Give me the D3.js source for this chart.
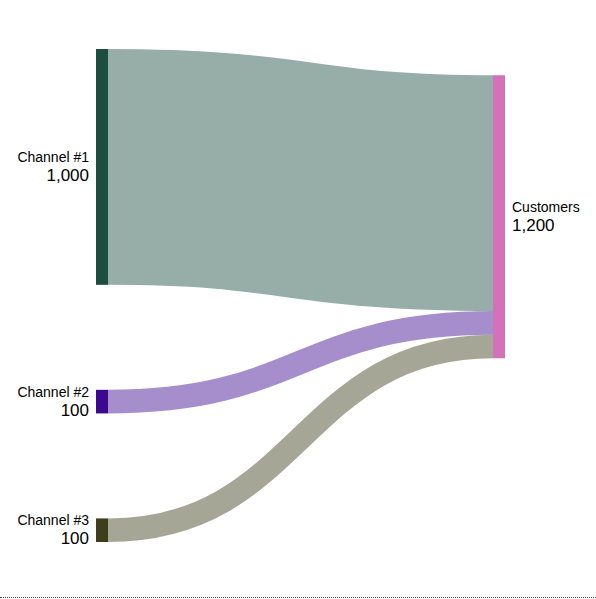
<!DOCTYPE html>
<html>
<head>
<meta charset="utf-8">
<script src="https://cdn.jsdelivr.net/npm/d3@7"></script>
<style>
  body { margin: 0; background: #fff; }
  #chart { width: 596px; height: 597px; border-bottom: 1px dotted #444; }
  svg { display: block; }
</style>
</head>
<body>
<div id="chart"></div>
<script>
const FRAME_WIDTH = 596;
const FRAME_HEIGHT = 597;
const MARGINS = { top: 49, bottom: 55 };
const NODE_WIDTH = 12;
const NODE_PADDING = 105;
const LABEL_GAP = 7;

// data
const sourceNames = ["Channel #1", "Channel #2", "Channel #3"];
const sourceValues = [1000, 100, 100];
const sourceColors = ["#1c4d3f", "#3d0890", "#3e3e1b"];
const targetName = "Customers";
const targetColor = "#d471b9";

const fmt = d3.format(",");
const total = d3.sum(sourceValues);

const FRAME = d3.select("#chart")
  .append("svg")
  .attr("width", FRAME_WIDTH)
  .attr("height", FRAME_HEIGHT);

const VIS_HEIGHT = FRAME_HEIGHT - MARGINS.top - MARGINS.bottom;

// value -> pixel height
const H = d3.scaleLinear()
  .domain([0, total])
  .range([0, VIS_HEIGHT - NODE_PADDING * (sourceValues.length - 1)]);

// column -> x
const X = d3.scaleLinear().domain([0, 1]).range([96, 493]);

// lay out source nodes
let yy = MARGINS.top;
const sources = sourceNames.map((name, i) => {
  const n = { name: name, value: sourceValues[i], color: sourceColors[i],
    x0: X(0), x1: X(0) + NODE_WIDTH, y0: yy, y1: yy + H(sourceValues[i]) };
  yy = n.y1 + NODE_PADDING;
  return n;
});

// target centred on the weighted centre of its inputs
const centre = d3.sum(sources, (d) => d.value * (d.y0 + d.y1) / 2) / total;
const target = { name: targetName, value: total, color: targetColor,
  x0: X(1), x1: X(1) + NODE_WIDTH,
  y0: centre - H(total) / 2, y1: centre + H(total) / 2 };

// links
let ty = target.y0;
const links = sources.map((s) => {
  const w = H(s.value);
  const l = { source: s, width: w, color: s.color,
    sy: (s.y0 + s.y1) / 2, ty: ty + w / 2 };
  ty += w;
  return l;
});

const linkPath = d3.linkHorizontal()
  .source((d) => [d.source.x1, d.sy])
  .target((d) => [target.x0, d.ty]);

FRAME.append("g")
  .attr("fill", "none")
  .selectAll("path")
  .data(links)
  .enter()
  .append("path")
  .attr("d", linkPath)
  .attr("stroke", (d) => d.color)
  .attr("stroke-opacity", 0.46)
  .attr("stroke-width", (d) => d.width);

const nodes = sources.concat([target]);

FRAME.append("g")
  .selectAll("rect")
  .data(nodes)
  .enter()
  .append("rect")
  .attr("x", (d) => d.x0)
  .attr("y", (d) => d.y0)
  .attr("width", (d) => d.x1 - d.x0)
  .attr("height", (d) => d.y1 - d.y0)
  .attr("fill", (d) => d.color);

// labels
const labels = FRAME.append("g")
  .attr("font-family", "'Liberation Sans', Arial, Helvetica, sans-serif")
  .attr("fill", "#000")
  .selectAll("text")
  .data(nodes)
  .enter()
  .append("text")
  .attr("x", (d) => d === target ? d.x1 + LABEL_GAP : d.x0 - LABEL_GAP)
  .attr("y", (d) => (d.y0 + d.y1) / 2)
  .attr("text-anchor", (d) => d === target ? "start" : "end");

labels.append("tspan")
  .attr("dy", -5)
  .attr("font-size", "14px")
  .text((d) => d.name);

labels.append("tspan")
  .attr("x", (d) => d === target ? d.x1 + LABEL_GAP : d.x0 - LABEL_GAP)
  .attr("dy", 19)
  .attr("font-size", "17px")
  .text((d) => fmt(d.value));
</script>
</body>
</html>
